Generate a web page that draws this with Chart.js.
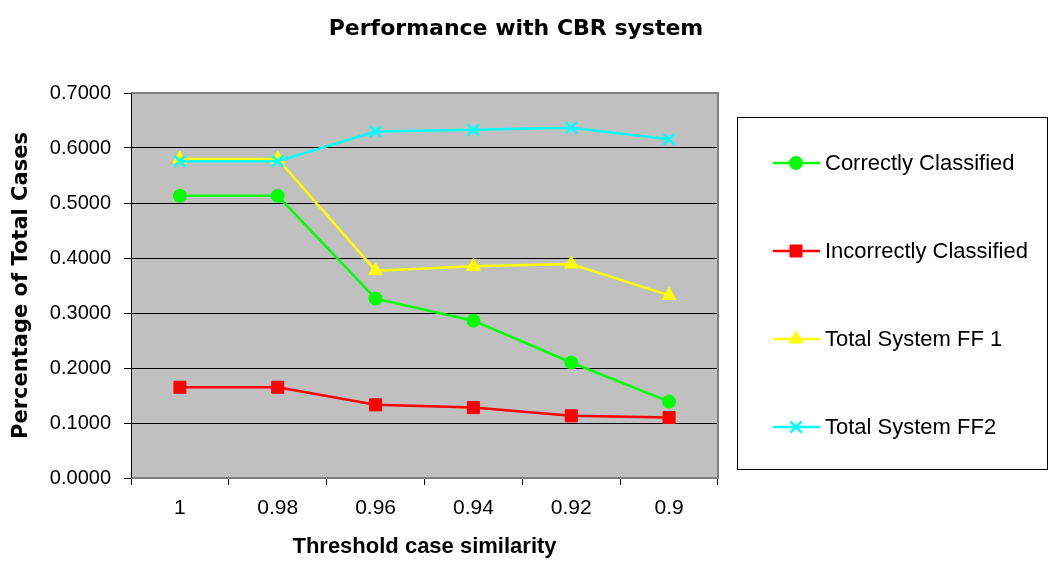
<!DOCTYPE html>
<html>
<head>
<meta charset="utf-8">
<title>Performance with CBR system</title>
<script src="https://cdn.jsdelivr.net/npm/chart.js@4.4.1/dist/chart.umd.min.js"></script>
<style>
  body { margin: 0; background: #fff; }
  #wrap { position: relative; width: 1060px; height: 562px; }
</style>
</head>
<body>
<div id="wrap"><canvas id="cbr-chart"></canvas></div>
<script>
// threshold on the x axis, share of total cases per series
const thresholds = ['1', '0.98', '0.96', '0.94', '0.92', '0.9'];
const correctlyClassified = [0.513, 0.513, 0.326, 0.286, 0.210, 0.139];
const incorrectlyClassified = [0.165, 0.165, 0.133, 0.128, 0.113, 0.110];
const totalSystemFF1 = [0.580, 0.580, 0.377, 0.385, 0.389, 0.332];
const totalSystemFF2 = [0.576, 0.576, 0.630, 0.633, 0.637, 0.616];
const yMin = 0, yMax = 0.7, yStep = 0.1;

const ARIAL = '"Liberation Sans", Arial, sans-serif';
const WIDE_BOLD = '"DejaVu Sans", Verdana, sans-serif';

function series(label, data, color, style, radius, order) {
  return {
    label: label,
    data: data,
    borderColor: color,
    backgroundColor: color,
    borderWidth: 2.5,
    tension: 0,
    pointStyle: style,
    pointRadius: radius,
    pointHoverRadius: radius,
    pointBackgroundColor: color,
    pointBorderColor: color,
    pointBorderWidth: style === 'crossRot' ? 2.5 : 1,
    order: order
  };
}

// grey plot area with the darker frame on top and right
const plotFrame = {
  id: 'plotFrame',
  beforeDraw(chart) {
    const { ctx, chartArea: a } = chart;
    ctx.save();
    ctx.fillStyle = '#c0c0c0';
    ctx.fillRect(a.left, a.top, a.right - a.left, a.bottom - a.top);
    ctx.restore();
  },
  beforeDatasetsDraw(chart) {
    const { ctx, chartArea: a } = chart;
    ctx.save();
    ctx.strokeStyle = '#808080';
    ctx.lineWidth = 2;
    ctx.beginPath();
    ctx.moveTo(a.left, a.top);
    ctx.lineTo(a.right, a.top);
    ctx.lineTo(a.right, a.bottom);
    ctx.lineTo(a.left, a.bottom);
    ctx.stroke();
    ctx.beginPath();
    ctx.strokeStyle = '#000';
    ctx.lineWidth = 1;
    ctx.moveTo(a.left + 0.5, a.top);
    ctx.lineTo(a.left + 0.5, a.bottom);
    ctx.stroke();
    ctx.restore();
  }
};

// boxed legend on the right, one row per dataset
const sideLegend = {
  id: 'sideLegend',
  afterDraw(chart, args, opts) {
    const { ctx } = chart;
    ctx.save();
    ctx.fillStyle = '#fff';
    ctx.fillRect(opts.x, opts.y, opts.width, opts.height);
    ctx.strokeStyle = '#000';
    ctx.lineWidth = 1;
    ctx.strokeRect(opts.x + 0.5, opts.y + 0.5, opts.width, opts.height);

    chart.data.datasets.forEach((ds, i) => {
      const cy = opts.y + opts.firstRow + i * opts.rowHeight;
      const x0 = opts.x + 36, x1 = opts.x + 83, xm = opts.x + 59;
      ctx.strokeStyle = ds.borderColor;
      ctx.lineWidth = ds.borderWidth;
      ctx.beginPath();
      ctx.moveTo(x0, cy);
      ctx.lineTo(x1, cy);
      ctx.stroke();

      ctx.fillStyle = ds.pointBackgroundColor;
      ctx.strokeStyle = ds.pointBorderColor;
      ctx.lineWidth = ds.pointBorderWidth;
      Chart.helpers.drawPoint(ctx, {
        pointStyle: ds.pointStyle,
        radius: ds.pointRadius,
        rotation: 0,
        borderWidth: ds.pointBorderWidth
      }, xm, cy);

      ctx.fillStyle = '#000';
      ctx.font = '22px ' + ARIAL;
      ctx.textAlign = 'left';
      ctx.textBaseline = 'middle';
      ctx.fillText(ds.label, opts.x + 88, cy + 1);
    });
    ctx.restore();
  }
};

new Chart(document.getElementById('cbr-chart'), {
  type: 'line',
  data: {
    labels: thresholds,
    datasets: [
      series('Correctly Classified', correctlyClassified, '#00ff00', 'circle', 6.5, 3),
      series('Incorrectly Classified', incorrectlyClassified, '#ff0000', 'rect', 8.5, 2),
      series('Total System FF 1', totalSystemFF1, '#ffff00', 'triangle', 8, 1),
      series('Total System FF2', totalSystemFF2, '#00ffff', 'crossRot', 8, 0)
    ]
  },
  options: {
    responsive: true,
    maintainAspectRatio: false,
    animation: false,
    layout: { padding: { left: 0, right: 28, top: 0, bottom: 0 } },
    scales: {
      x: {
        offset: true,
        grid: { offset: true, drawOnChartArea: false, drawTicks: true, tickLength: 7, color: '#000' },
        border: { color: '#808080', width: 1 },
        ticks: { color: '#000', font: { family: ARIAL, size: 21 }, padding: 11, maxRotation: 0 },
        title: {
          display: true,
          text: 'Threshold case similarity',
          color: '#000',
          font: { family: ARIAL, size: 22, weight: 'bold' },
          padding: { top: 0, bottom: 2 }
        },
        afterFit(scale) { scale.height = 84; }
      },
      y: {
        min: yMin,
        max: yMax,
        grid: { color: '#000', lineWidth: 1, drawTicks: true, tickLength: 7 },
        border: { color: '#000', width: 1 },
        ticks: {
          stepSize: yStep,
          color: '#000',
          padding: 13,
          font: { family: ARIAL, size: 20 },
          callback: (v) => Number(v).toFixed(4)
        },
        title: {
          display: true,
          text: 'Percentage of Total Cases',
          color: '#000',
          font: { family: WIDE_BOLD, size: 21, weight: 'bold' },
          padding: { top: 9, bottom: 0 }
        },
        afterFit(scale) { scale.width = 131; }
      },
      legendSpace: {
        type: 'linear',
        position: 'right',
        display: true,
        grid: { display: false },
        border: { display: false },
        ticks: { display: false },
        afterFit(scale) { scale.width = 314; }
      }
    },
    plugins: {
      legend: { display: false },
      tooltip: { enabled: false },
      title: {
        display: true,
        text: 'Performance with CBR system',
        color: '#000',
        font: { family: WIDE_BOLD, size: 22, weight: 'bold', lineHeight: 1.2 },
        padding: { top: 16, bottom: 50.6 }
      },
      sideLegend: { x: 737, y: 117, width: 310, height: 352, firstRow: 46, rowHeight: 88 }
    }
  },
  plugins: [plotFrame, sideLegend]
});
</script>
</body>
</html>
